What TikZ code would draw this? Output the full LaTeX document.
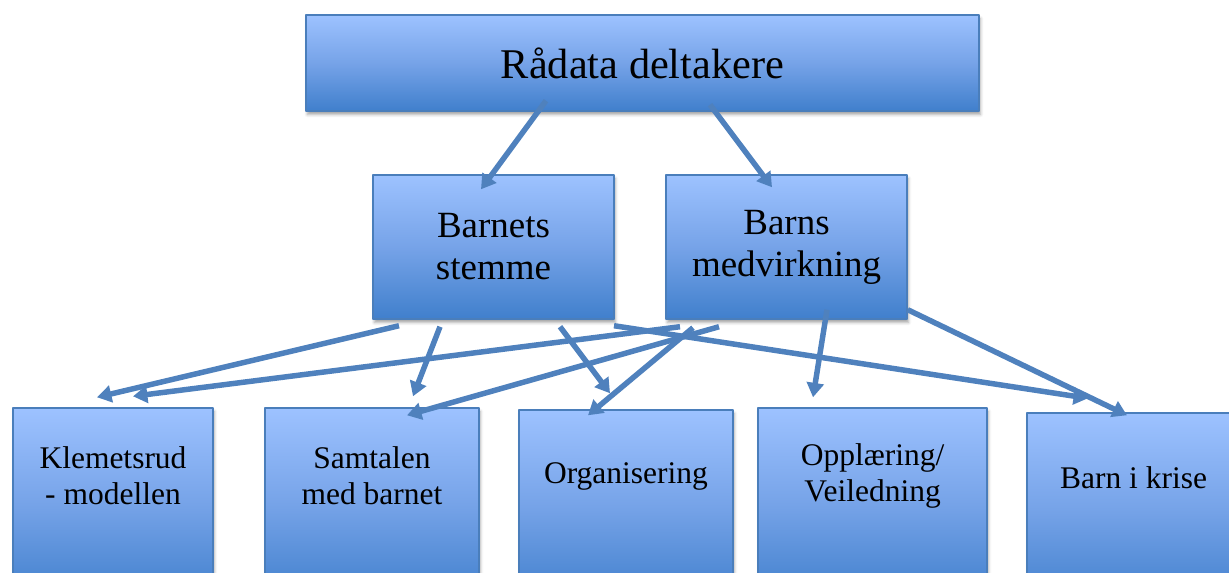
\documentclass[tikz,border=0pt]{standalone}
\usepackage{fontspec}
\setmainfont{Liberation Serif}
\usetikzlibrary{arrows.meta,calc,shadows.blur}

\definecolor{boxtop}{RGB}{157,194,255}
\definecolor{boxmid}{RGB}{118,163,232}
\definecolor{boxbot}{RGB}{64,127,204}
\definecolor{boxline}{RGB}{74,126,187}
\definecolor{linkblue}{RGB}{79,129,189}

\begin{document}
\begin{tikzpicture}[x=0.025cm, y=-0.025cm, line join=round,
  box/.style={draw=boxline, line width=1pt, top color=boxtop, bottom color=boxbot,
    middle color=boxmid, inner sep=0pt,
    blur shadow={shadow xshift=1pt, shadow yshift=-2.5pt, shadow blur radius=2pt, shadow opacity=35}},
  boxtext/.style={align=center, inner sep=0pt},
  link/.style={draw=linkblue, line width=3.9pt, -{Triangle[length=0.36cm,width=0.42cm]}}]

\path[use as bounding box] (0,0) rectangle (1229,572);
\clip (0,0) rectangle (1229,572);

% top level
\node (raw) at (642.5,63) [box, minimum width=16.825cm, minimum height=2.4cm,
  font=\fontsize{30.1pt}{36pt}\selectfont] {Rådata deltakere};

% middle level
\node (barnets) at (493.5,247) [box, boxtext, minimum width=6.025cm, minimum height=3.6cm,
  font=\fontsize{26.3pt}{29.9pt}\selectfont] {Barnets\\stemme};
\node (barns) at (786.5,247) [box, boxtext, minimum width=6.025cm, minimum height=3.6cm,
  font=\fontsize{26.3pt}{29.9pt}\selectfont] {Barns\\medvirkning};

% bottom level
\node (klem) at (113,504) [box, minimum width=5cm, minimum height=4.8cm] {};
\node (samt) at (372,504) [box, minimum width=5.35cm, minimum height=4.8cm] {};
\node (org) at (626,506) [box, minimum width=5.35cm, minimum height=4.8cm] {};
\node (oppl) at (872.5,504) [box, minimum width=5.725cm, minimum height=4.8cm] {};
\node (krise) at (1133.5,509) [box, minimum width=5.325cm, minimum height=4.8cm] {};

\begin{scope}[every node/.style={boxtext, font=\fontsize{22.4pt}{25.6pt}\selectfont}]
\node (klemtxt) at (113,476) {Klemetsrud\\- modellen};
\node (samttxt) at (372,476) {Samtalen\\med barnet};
\node (orgtxt) at (626,476) {Organisering};
\node (oppltxt) at (872.5,476) {Opplæring/\\Veiledning};
\node (krisetxt) at (1133.5,478) {Barn i krise};
\end{scope}

\draw[link] ($(raw.south)+(-96.5,-11)$) -- ($(barnets.north)+(-12.5,15)$);
\draw[link] ($(raw.south)+(67.5,-7)$) -- ($(barns.north)+(-14.5,13)$);

\draw[link] ($(barnets.south)+(-94.5,6)$) -- ($(klem.north)+(-16,-10)$);
\draw[link] ($(barnets.south)+(-53.5,7)$) -- ($(samt.north)+(41,-11)$);
\draw[link] ($(barnets.south)+(66.5,7)$) -- ($(org.north)+(-16,-16)$);
\draw[link] ($(barnets.south)+(120.5,6)$) -- ($(krise.north)+(-45.5,-14)$);

\draw[link] ($(barns.south)+(-106.5,7)$) -- ($(klem.north)+(20,-11)$);
\draw[link] ($(barns.south)+(-67.5,7)$) -- ($(samt.north)+(35,8)$);
\draw[link] ($(barns.south)+(-93.5,8)$) -- ($(org.north)+(-38,6)$);
\draw[link] ($(barns.south)+(40.5,-10)$) -- ($(oppl.north)+(-59.5,-10)$);
\draw[link] ($(barns.south east)+(0,-10)$) -- ($(krise.north)+(-6.5,3)$);

\end{tikzpicture}
\end{document}
